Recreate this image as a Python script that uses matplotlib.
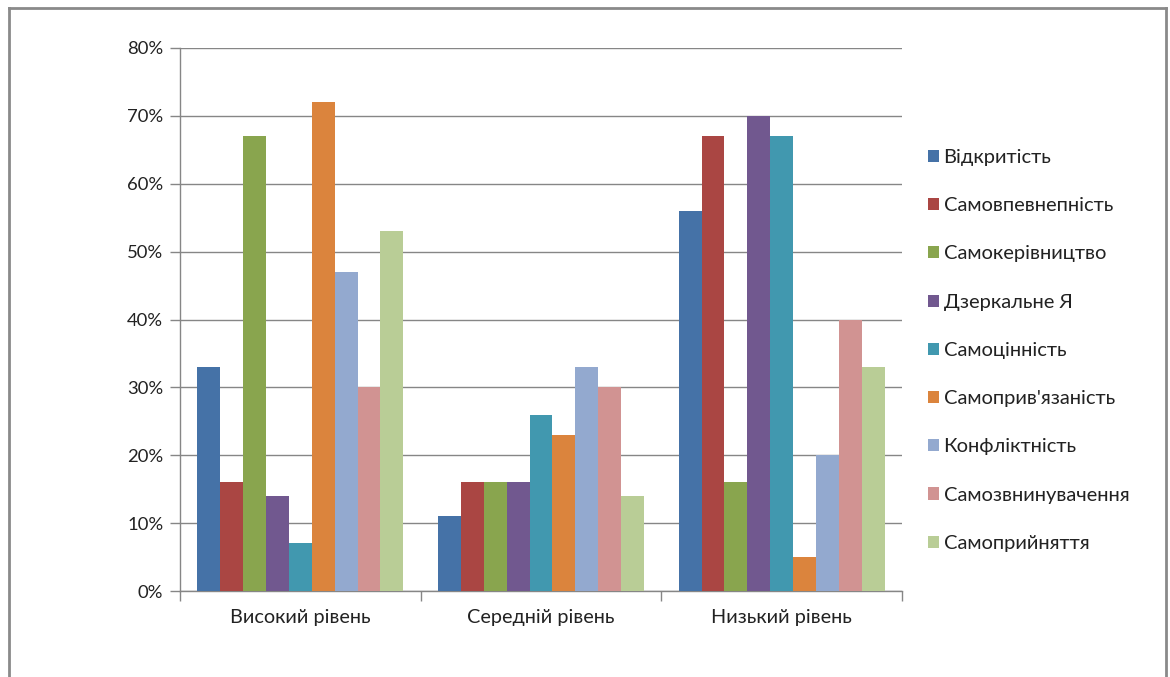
import matplotlib
matplotlib.use("Agg")
import matplotlib.pyplot as plt
from matplotlib.patches import Patch
from matplotlib.lines import Line2D
import numpy as np

categories = ["Високий рівень", "Середній рівень", "Низький рівень"]
series_names = ["Відкритість", "Самовпевнепність", "Самокерівництво", "Дзеркальне Я",
                "Самоцінність", "Самоприв'язаність", "Конфліктність",
                "Самозвнинувачення", "Самоприйняття"]
values = [
    [33, 11, 56],
    [16, 16, 67],
    [67, 16, 16],
    [14, 16, 70],
    [7, 26, 67],
    [72, 23, 5],
    [47, 33, 20],
    [30, 30, 40],
    [53, 14, 33],
]
colors = ["#4572A7", "#AA4643", "#89A54E", "#71588F", "#4198AF",
          "#DB843D", "#93A9CF", "#D19392", "#B9CD96"]
yticks = [0, 10, 20, 30, 40, 50, 60, 70, 80]

plt.rcParams['font.family'] = ['Lato', 'DejaVu Sans']
W, H = 1170, 677
fig = plt.figure(figsize=(W / 100, H / 100), dpi=100)

ax = fig.add_axes([180 / W, (H - 591) / H, 722 / W, 543 / H])
n = len(series_names)
cluster = 0.856
bw = cluster / n
x = np.arange(len(categories))
for i, (name, vals, c) in enumerate(zip(series_names, values, colors)):
    ax.bar(x - cluster / 2 + bw * (i + 0.5), vals, width=bw, color=c,
           label=name, zorder=3, linewidth=0)

ax.set_xlim(-0.5, len(categories) - 0.5)
ax.set_ylim(0, 80)
ax.set_yticks(yticks)
ax.set_yticklabels([f"{v}%" for v in yticks])
ax.set_xticks(x)
ax.set_xticklabels(categories)
ax.set_xticks(np.arange(len(categories) + 1) - 0.5, minor=True)
ax.tick_params(axis='x', which='major', length=0, pad=13, labelsize=14.3, colors='#222222')
ax.tick_params(axis='x', which='minor', length=7, width=1, color='#868686', direction='out')
ax.tick_params(axis='y', length=7, width=1, color='#868686', direction='out',
               pad=5, labelsize=13.3, labelcolor='#222222')
ax.grid(axis='y', color='#868686', linewidth=1, zorder=0)
for s in ['top', 'right']:
    ax.spines[s].set_visible(False)
for s in ['left', 'bottom']:
    ax.spines[s].set_color('#868686')
    ax.spines[s].set_linewidth(1)

handles = [Patch(facecolor=c, edgecolor='none') for c in colors]
leg = fig.legend(handles, series_names, loc='upper left',
                 bbox_to_anchor=(920 / W, 1 - 141 / H), frameon=False,
                 fontsize=14.5, handlelength=0.55, handleheight=0.55,
                 handletextpad=0.22, labelspacing=1.55, borderaxespad=0)
for t in leg.get_texts():
    t.set_color('#222222')

# outer chart border
bc = '#8a8a8a'
fig.add_artist(Line2D([9 / W, 9 / W], [0, 1 - 8 / H], color=bc, linewidth=2, transform=fig.transFigure))
fig.add_artist(Line2D([9 / W, 1166 / W], [1 - 8 / H, 1 - 8 / H], color=bc, linewidth=2, transform=fig.transFigure))
fig.add_artist(Line2D([1166 / W, 1166 / W], [0, 1 - 8 / H], color=bc, linewidth=2, transform=fig.transFigure))

fig.savefig("out.png", dpi=100)
